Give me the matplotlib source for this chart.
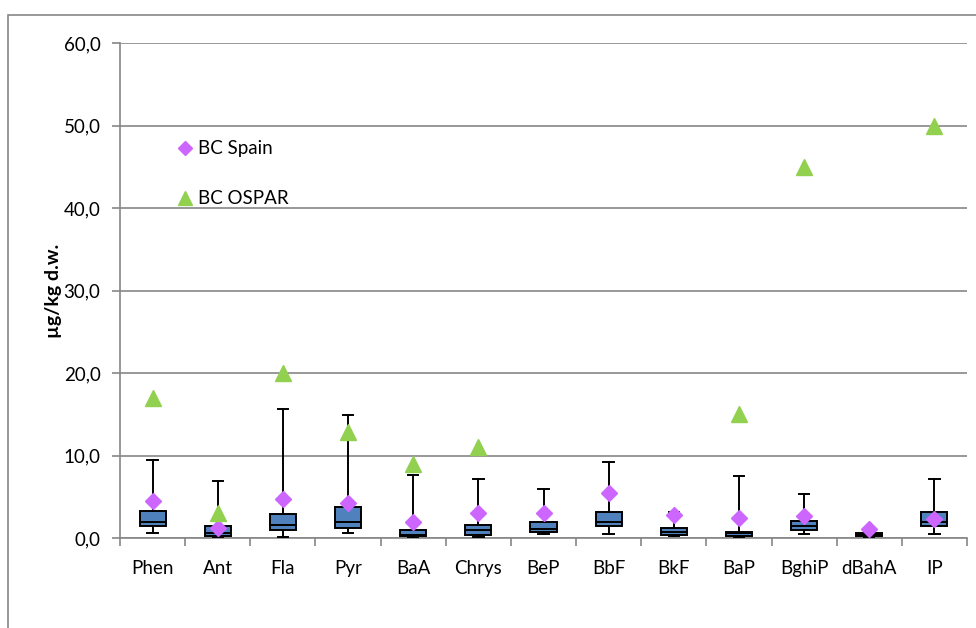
import matplotlib
matplotlib.use("Agg")
import matplotlib.pyplot as plt
from matplotlib.lines import Line2D
import numpy as np

plt.rcParams['font.family'] = ['Lato', 'DejaVu Sans']

categories = ["Phen", "Ant", "Fla", "Pyr", "BaA", "Chrys", "BeP", "BbF", "BkF", "BaP", "BghiP", "dBahA", "IP"]
whisker_low = [0.6, 0.05, 0.1, 0.6, 0.05, 0.15, 0.45, 0.45, 0.25, 0.1, 0.45, 0.05, 0.45]
q1 =          [1.5, 0.2, 1.0, 1.2, 0.2, 0.35, 0.75, 1.4, 0.4, 0.2, 1.0, 0.2, 1.4]
median =      [1.9, 0.6, 1.6, 1.9, 0.35, 1.0, 1.05, 1.9, 0.75, 0.55, 1.4, 0.4, 1.9]
q3 =          [3.3, 1.4, 2.9, 3.7, 1.0, 1.6, 2.0, 3.1, 1.2, 0.75, 2.1, 0.65, 3.1]
whisker_high = [9.4, 6.9, 15.6, 14.9, 7.6, 7.1, 6.0, 9.25, 3.1, 7.5, 5.3, 0.65, 7.1]
bc_spain = [4.5, 1.25, 4.7, 4.3, 2.0, 3.0, 3.0, 5.5, 2.8, 2.45, 2.65, 1.1, 2.25]
bc_ospar = [17.0, 3.0, 20.0, 12.8, 9.0, 11.0, np.nan, np.nan, np.nan, 15.0, 45.0, np.nan, 50.0]
y_ticks = [0, 10, 20, 30, 40, 50, 60]
y_label = "µg/kg d.w."

fig = plt.figure(figsize=(9.76, 6.28), dpi=100)
# outer chart border
fig.add_artist(plt.Rectangle((8/976, -0.1), 2, 1.1 - 15/628, transform=fig.transFigure,
                             fill=False, edgecolor='#868686', linewidth=1.2))
ax = fig.add_axes([120/976, (628-538)/628, (967-120)/976, (538-43)/628])

n = len(categories)
pos = np.arange(n)
stats = []
for i in range(n):
    stats.append(dict(whislo=whisker_low[i], q1=q1[i], med=median[i], q3=q3[i],
                      whishi=whisker_high[i], fliers=[], label=categories[i]))
ax.bxp(stats, positions=pos, widths=0.4, capwidths=0.16, showfliers=False, patch_artist=True,
       boxprops=dict(facecolor='#4F81BD', edgecolor='black', linewidth=1.4),
       medianprops=dict(color='black', linewidth=1.4),
       whiskerprops=dict(color='black', linewidth=1.4),
       capprops=dict(color='black', linewidth=1.4), zorder=3)

ax.plot(pos, bc_spain, linestyle='none', marker='D', markersize=8, color='#CC66FF',
        markeredgecolor='#CC66FF', zorder=5)
ax.plot(pos, bc_ospar, linestyle='none', marker='^', markersize=11, color='#92D050',
        markeredgecolor='#92D050', zorder=5)

ax.set_xlim(-0.5, n - 0.5)
ax.set_ylim(0, 60)
ax.set_yticks(y_ticks)
ax.set_yticklabels([f"{v:.1f}".replace('.', ',') for v in y_ticks], fontsize=13.5)
ax.set_xticks(pos)
ax.set_xticklabels(categories, fontsize=13.5)
ax.tick_params(axis='x', length=0, pad=16)
ax.set_xticks(np.arange(n + 1) - 0.5, minor=True)
ax.tick_params(axis='x', which='minor', length=6, color='#868686', width=1.2)
ax.tick_params(axis='y', length=6, color='#868686', width=1.2, pad=8)
ax.grid(axis='y', color='#868686', linewidth=1.2, zorder=0)
ax.set_axisbelow(True)
for s in ['top', 'right']:
    ax.spines[s].set_visible(False)
for s in ['left', 'bottom']:
    ax.spines[s].set_color('#868686')
    ax.spines[s].set_linewidth(1.2)
ax.set_ylabel(y_label, fontsize=14, fontweight='bold', labelpad=1)

handles = [Line2D([], [], linestyle='none', marker='D', markersize=7, color='#CC66FF'),
           Line2D([], [], linestyle='none', marker='^', markersize=10, color='#92D050')]
ax.legend(handles, ["BC Spain", "BC OSPAR"], loc='upper left', frameon=False,
          bbox_to_anchor=(166/976, 1 - 131/628), bbox_transform=fig.transFigure,
          fontsize=13.5, labelspacing=1.75, handletextpad=0.2, handlelength=1.0, borderpad=0)

fig.savefig("out.png", dpi=100)
